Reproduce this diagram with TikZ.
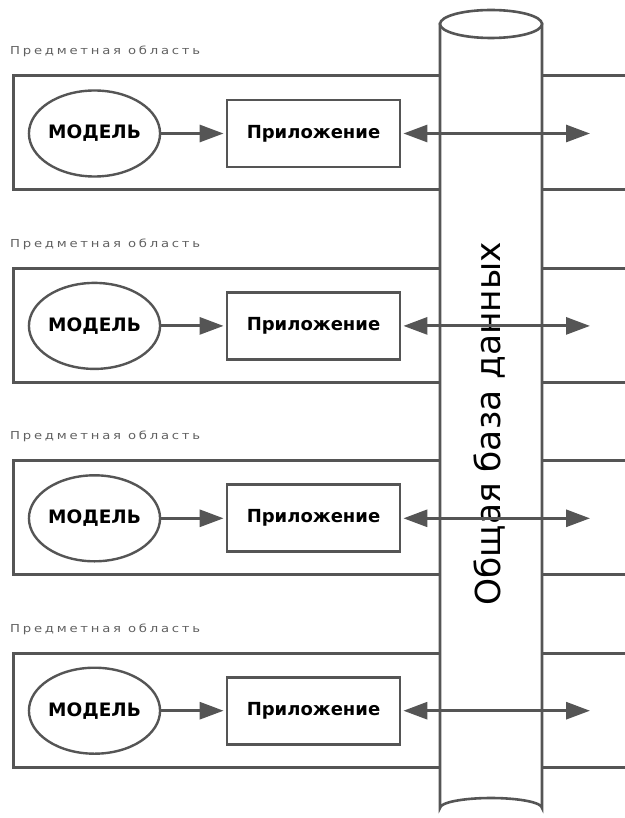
\documentclass[tikz,border=0pt]{standalone}
\usepackage{fontspec}
\setmainfont{DejaVu Sans}
\newfontfamily\lblfont[LetterSpace=21]{DejaVu Sans}
\usetikzlibrary{arrows.meta,shapes.geometric}
\definecolor{ln}{HTML}{555555}
\definecolor{lbl}{HTML}{606060}
\tikzset{
  domainbox/.style={draw=ln,line width=3pt},
  modelnode/.style={ellipse,draw=ln,line width=2.4pt,minimum width=129pt,minimum height=86pt,inner sep=0pt,font=\bfseries\fontsize{18.5}{20}\selectfont},
  appnode/.style={rectangle,draw=ln,line width=2.8pt,minimum width=173pt,minimum height=67pt,inner sep=0pt,font=\bfseries\fontsize{18}{20}\selectfont},
  conn/.style={draw=ln,line width=3pt,-{Triangle[length=24pt,width=17pt]},shorten >=2pt},
  dconn/.style={draw=ln,line width=3pt,{Triangle[length=24pt,width=17pt]}-{Triangle[length=24pt,width=17pt]},shorten <=2pt},
  arealabel/.style={anchor=base west,inner sep=0pt,text=lbl,font=\lblfont\fontsize{11}{13}\selectfont},
  cyl/.style={draw=ln,line width=2.6pt,fill=white},
}
\begin{document}
\begin{tikzpicture}[x=1pt,y=-1pt]
\useasboundingbox (0,0) rectangle (624,818);
% domain boxes
\foreach \i in {0,1,2,3}{
  \pgfmathsetmacro{\dy}{192.4*\i}
  \draw[domainbox] (640,76+\dy) -- (13,76+\dy) -- (13,190+\dy) -- (640,190+\dy);
  \node[arealabel] (lab\i) at (10,55+\dy) {\scalebox{1.2}[1]{Предметная область}};
}
% cylinder
\draw[cyl] (440,24) -- (440,808) arc[start angle=180,end angle=360,x radius=51,y radius=10] -- (542,24) -- cycle;
\draw[cyl] (491,24) ellipse[x radius=51,y radius=14];
\node[rotate=90,inner sep=0pt,font=\fontsize{34.4}{36}\selectfont] (db) at (490,424) {Общая база данных};
% models and applications
\foreach \i in {0,1,2,3}{
  \pgfmathsetmacro{\dy}{192.4*\i}
  \node[modelnode,fill=white] (m\i) at (94.5,133.5+\dy) {МОДЕЛЬ};
  \node[appnode,fill=white] (a\i) at (313.5,133.5+\dy) {Приложение};
  \coordinate (e\i) at (590,133.5+\dy);
  \draw[conn] (m\i.east) -- (a\i.west);
  \draw[dconn] (a\i.east) -- (e\i);
}
\end{tikzpicture}
\end{document}
